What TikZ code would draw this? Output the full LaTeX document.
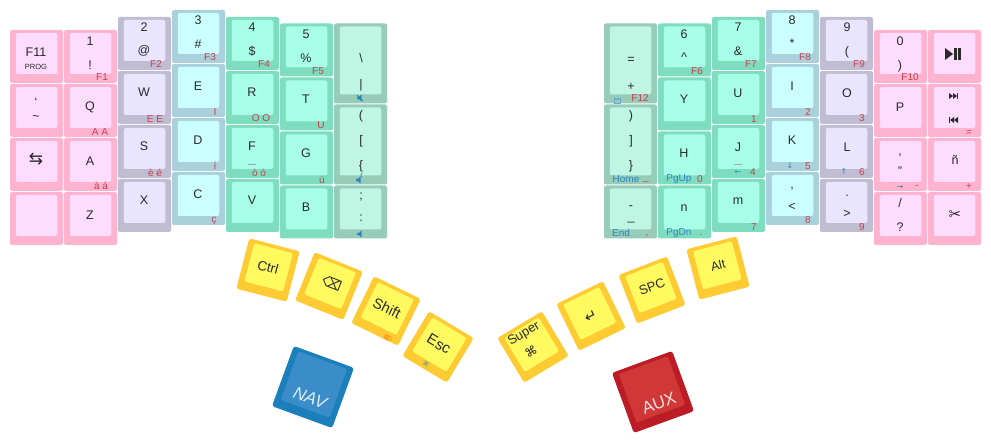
\documentclass[tikz,border=0pt]{standalone}
\usepackage{fontspec}
\setmainfont{Liberation Sans}
\newfontfamily\symf{DejaVu Sans}
\usetikzlibrary{calc}
\definecolor{po}{HTML}{FFB3CE}\definecolor{pi}{HTML}{FDDCFF}
\definecolor{vo}{HTML}{C0BCD2}\definecolor{vi}{HTML}{E9E4FF}
\definecolor{co}{HTML}{A9D0DB}\definecolor{ci}{HTML}{CBFFFF}
\definecolor{go}{HTML}{7EDDBF}\definecolor{gi}{HTML}{A8FFE8}
\definecolor{so}{HTML}{97CCB8}\definecolor{si}{HTML}{BEF6E3}
\definecolor{yo}{HTML}{FFCB33}\definecolor{yi}{HTML}{FFFA60}
\definecolor{bo}{HTML}{1A7FBB}\definecolor{bi}{HTML}{3A8DC8}
\definecolor{ro}{HTML}{BC1C25}\definecolor{ri}{HTML}{D03837}
\definecolor{legred}{HTML}{C8404F}\definecolor{legblue}{HTML}{2A86BE}
\definecolor{legdark}{HTML}{2A2A2A}
\newcounter{lb}
\tikzset{
  x=1pt,y=-1pt,
  keyshape/.style={rounded corners=2pt,draw=none,inner sep=0pt,outer sep=0pt},
  leg/.style={text=legdark,font=\fontsize{12.5}{13}\selectfont,inner sep=0pt,anchor=center},
  red/.style={text=legred,font=\fontsize{10}{10}\selectfont,inner sep=0pt,anchor=center},
  blue/.style={text=legblue,font=\fontsize{10}{10}\selectfont,inner sep=0pt,anchor=center},
  arrowleg/.style={text=legblue,font=\symf\fontsize{8}{8}\selectfont,inner sep=0pt,anchor=center},
  iconblue/.style={fill=legblue,draw=none},
}
\newcommand{\capkey}[7]{%
  \node[keyshape,fill=#6,minimum width=#4pt,minimum height=#5pt,anchor=north west] (#1) at (#2,#3) {};
  \path let \n1={#4-11.5},\n2={#5-12} in
    node[keyshape,fill=#7,minimum width=\n1,minimum height=\n2,anchor=north west] (#1i) at (#2+5.75,#3+3) {};
}
\newcommand{\lab}[4][leg]{\stepcounter{lb}\node[#1,name=t\arabic{lb}] at (#2,#3) {#4};}
% point in screen coordinates: centre #1,#2, clockwise angle #3, local u #4, v #5 (v down)
\newcommand{\rp}[5]{({#1+(#4)*cos(#3)-(#5)*sin(#3)},{#2+(#4)*sin(#3)+(#5)*cos(#3)})}
% rotated thumb key: #1 name #2 cx #3 cy #4 clockwise angle #5 half size #6 outer #7 inner
\newcommand{\thumb}[7]{%
  \pgfmathsetmacro{\hs}{#5}\pgfmathsetmacro{\ix}{#5-6}\pgfmathsetmacro{\it}{-#5+3.5}\pgfmathsetmacro{\ib}{#5-9}
  \coordinate (#1) at (#2,#3);
  \fill[#6,rounded corners=2.5pt] \rp{#2}{#3}{#4}{-\hs}{-\hs} -- \rp{#2}{#3}{#4}{\hs}{-\hs} -- \rp{#2}{#3}{#4}{\hs}{\hs} -- \rp{#2}{#3}{#4}{-\hs}{\hs} -- cycle;
  \fill[#7,rounded corners=2pt] \rp{#2}{#3}{#4}{-\ix}{\it} -- \rp{#2}{#3}{#4}{\ix}{\it} -- \rp{#2}{#3}{#4}{\ix}{\ib} -- \rp{#2}{#3}{#4}{-\ix}{\ib} -- cycle;}
\newcommand{\colkeys}[6]{%
  \foreach \r in {0,...,#6}{\capkey{#1\r}{#2}{#3+54*\r}{53}{53}{#4}{#5}}}
\newcommand{\spk}[2]{%
  \fill[iconblue] (#1-3,#2-1.2) -- (#1-1,#2-1.2) -- (#1+1.5,#2-3.5) -- (#1+1.5,#2+3.5) -- (#1-1,#2+1.2) -- (#1-3,#2+1.2) -- cycle;}
\begin{document}
\begin{tikzpicture}
\useasboundingbox (0,0) rectangle (991,446);
% left hand
\colkeys{a}{10}{30}{po}{pi}{3}
\colkeys{b}{64}{30}{po}{pi}{3}
\colkeys{c}{118}{17}{vo}{vi}{3}
\colkeys{d}{172}{10}{co}{ci}{3}
\colkeys{e}{226}{17}{go}{gi}{3}
\colkeys{f}{280}{23.5}{go}{gi}{3}
\capkey{g0}{334}{23.5}{53}{80}{so}{si}
\capkey{g1}{334}{104.5}{53}{80}{so}{si}
\capkey{g2}{334}{185.5}{53}{53}{so}{si}
% right hand
\capkey{h0}{604}{23.5}{53}{80}{so}{si}
\capkey{h1}{604}{104.5}{53}{80}{so}{si}
\capkey{h2}{604}{185.5}{53}{53}{so}{si}
\colkeys{i}{658}{23.5}{go}{gi}{3}
\colkeys{j}{712}{17}{go}{gi}{3}
\colkeys{k}{766}{10}{co}{ci}{3}
\colkeys{l}{820}{17}{vo}{vi}{3}
\colkeys{m}{874}{30}{po}{pi}{3}
\colkeys{n}{928}{30}{po}{pi}{3}
% thumbs
\thumb{t1}{268}{270}{14.5}{26}{yo}{yi}
\thumb{t2}{329}{286}{22}{26}{yo}{yi}
\thumb{t3}{386}{311}{26}{26}{yo}{yi}
\thumb{t4}{438}{347}{31}{26}{yo}{yi}
\thumb{t5}{533}{347}{-31}{26}{yo}{yi}
\thumb{t6}{591}{316}{-26}{26}{yo}{yi}
\thumb{t7}{652}{290}{-21}{26}{yo}{yi}
\thumb{t8}{718}{268}{-14.5}{26}{yo}{yi}
\thumb{t9}{313}{387}{20}{32}{bo}{bi}
\thumb{t10}{653}{392}{-20}{32}{ro}{ri}
% col 0
\lab{36}{52}{F11}
\lab[leg,font=\fontsize{7.5}{8}\selectfont]{36}{67}{PROG}
\lab{36}{102}{`}
\lab{36}{118}{\textasciitilde}
\lab[leg,font=\symf\fontsize{17}{17}\selectfont]{36}{159}{⇆}
% col 1
\lab{90}{41}{1}\lab{90}{65}{!}\lab[red]{102}{77}{F1}
\lab{90}{107}{Q}\lab[red]{100}{132}{A A}
\lab{90}{161}{A}\lab[red]{101}{186}{à á}
\lab{90}{215}{Z}
% col 2
\lab{144}{27}{2}\lab{144}{51}{@}\lab[red]{156}{64}{F2}
\lab{144}{92}{W}\lab[red]{155}{119}{E E}
\lab{144}{146}{S}\lab[red]{155}{173}{è é}
\lab{144}{200}{X}
% col 3
\lab{198}{20}{3}\lab{198}{44}{\#}\lab[red]{210}{57}{F3}
\lab{198}{86}{E}\lab[red]{215}{112}{I}
\lab{198}{140}{D}\lab[red]{215}{166}{í}
\lab{198}{194}{C}\lab[red]{214}{221}{ç}
% col 4
\lab{252}{27}{4}\lab{252}{51}{\$}\lab[red]{264}{64}{F4}
\lab{252}{92}{R}\lab[red]{261}{118}{O O}
\lab{252}{146}{F}\lab[red]{259}{173}{ò ó}
\lab{252}{200}{V}
% col 5
\lab{306}{34}{5}\lab{306}{58}{\%}\lab[red]{318}{71}{F5}
\lab{306}{99}{T}\lab[red]{321}{125}{U}
\lab{306}{153}{G}\lab[red]{322}{180}{ú}
\lab{306}{207}{B}
% col 6
\lab{361}{58}{\textbackslash}\lab{361}{85}{|}
\lab{361}{116}{(}\lab{361}{141}{[}\lab{361}{166}{\{}
\lab{361}{197}{;}\lab{361}{218}{:}
\spk{360}{98}\draw[legblue,line width=.8pt] (357,95) -- (363,101);
\spk{359}{180}\draw[legblue,line width=.6pt] (362,177.5) arc (-50:50:-3);
\spk{360}{234}
% right col h
\lab{631}{60}{=}\lab{631}{87}{+}
\lab[red]{640}{98}{F12}
\draw[legblue!70,line width=.7pt] (614,98) rectangle (620,103);\draw[legblue!70,line width=.7pt] (615,98) arc (180:0:2);
\lab{631}{116}{)}\lab{631}{141}{]}\lab{631}{166}{\}}
\lab[blue]{626}{179}{Home}\lab[red]{646}{181}{\_}
\lab{631}{208}{-}\lab{631}{222}{\_}
\lab[blue]{621}{233}{End}\lab[red]{647}{236}{,}
% col i
\lab{684}{34}{6}\lab{684}{57}{\textasciicircum}\lab[red]{697}{71}{F6}
\lab{684}{99}{Y}\lab{684}{153}{H}
\lab[blue]{679}{179}{PgUp}\lab[red]{700}{179}{0}
\lab{684}{208}{n}\lab[blue]{679}{233}{PgDn}\lab[red]{701}{235}{.}
% col j
\lab{738}{27}{7}\lab{738}{51}{\&}\lab[red]{751}{64}{F7}
\lab{738}{93}{U}\lab[red]{754}{119}{1}
\lab{738}{147}{J}\lab[arrowleg]{738}{172}{←}\lab[red]{753}{172}{4}
\lab{738}{201}{m}\lab[red]{754}{227}{7}
% col k
\lab{792}{20}{8}\lab{792}{43}{*}\lab[red]{805}{57}{F8}
\lab{792}{86}{I}\lab[red]{808}{112}{2}
\lab{792}{140}{K}\lab[arrowleg]{790}{166}{↓}\lab[red]{808}{166}{5}
\lab{792}{189}{,}\lab{792}{207}{<}\lab[red]{808}{220}{8}
% col l
\lab{847}{27}{9}\lab{847}{52}{(}\lab[red]{859}{64}{F9}
\lab{847}{93}{O}\lab[red]{862}{118}{3}
\lab{847}{147}{L}\lab[arrowleg]{844}{172}{↑}\lab[red]{862}{172}{6}
\lab{847}{196}{.}\lab{847}{214}{>}\lab[red]{862}{227}{9}
% col m
\lab{900}{41}{0}\lab{900}{66}{)}\lab[red]{910}{77}{F10}
\lab{900}{107}{P}
\lab{900}{158}{'}\lab{900}{171}{"}
\lab[arrowleg]{900}{187}{→}\lab[red]{917}{187}{-}
\lab{900}{203}{/}\lab{900}{227}{?}
% col n
\fill[legdark] (945,48) -- (953,54) -- (945,60) -- cycle;
\fill[legdark] (954,48) rectangle (956.5,60);\fill[legdark] (958,48) rectangle (960.5,60);
\fill[legdark] (949,93) -- (953,96) -- (949,99) -- cycle;\fill[legdark] (953,93) -- (957,96) -- (953,99) -- cycle;\fill[legdark] (957,93) rectangle (958,99);
\fill[legdark] (958,117) -- (954,120) -- (958,123) -- cycle;\fill[legdark] (954,117) -- (950,120) -- (954,123) -- cycle;\fill[legdark] (949,117) rectangle (950,123);
\lab[red]{969}{133}{=}
\lab{955}{160}{ñ}\lab[red]{969}{187}{+}
\lab[leg,font=\symf\fontsize{15}{15}\selectfont]{955}{215}{✂}
% homing bars
\draw[black!35,line width=.6pt] (248,164.5) -- (256,164.5);
\draw[black!35,line width=.6pt] (734,164.5) -- (742,164.5);
% thumb labels
\lab[leg,rotate=-14.5,font=\fontsize{13.5}{14}\selectfont]{268}{267}{Ctrl}
\lab[leg,rotate=-22,font=\symf\fontsize{14}{14}\selectfont]{332}{283}{⌫}
\lab[leg,rotate=-26,font=\fontsize{14.5}{15}\selectfont]{387}{308}{Shift}
\lab[leg,rotate=-31,font=\fontsize{15}{15}\selectfont]{439}{344}{Esc}
\lab[leg,rotate=31,font=\fontsize{13}{13}\selectfont]{524}{334}{Super}
\lab[leg,rotate=31,font=\symf\fontsize{12}{12}\selectfont]{531}{352}{⌘}
\lab[leg,rotate=26,font=\symf\fontsize{15}{15}\selectfont]{591}{317}{↵}
\lab[leg,rotate=21,font=\fontsize{13}{13}\selectfont]{652}{287}{SPC}
\lab[leg,rotate=14.5,font=\fontsize{12.5}{13}\selectfont]{718}{265}{Alt}
\lab[leg,text=white!85!bi,rotate=-20,font=\itshape\fontsize{17}{17}\selectfont]{310}{398}{NAV}
\lab[leg,text=white!85!ri,rotate=20,font=\fontsize{17}{17}\selectfont]{659}{403}{AUX}
\lab[red,text=orange!80!red,rotate=-26,font=\symf\fontsize{6}{6}\selectfont]{388}{338}{⌦}
\lab[red,text=teal!80,rotate=-31,font=\symf\fontsize{6}{6}\selectfont]{426}{364}{⌘}
\end{tikzpicture}
\end{document}
